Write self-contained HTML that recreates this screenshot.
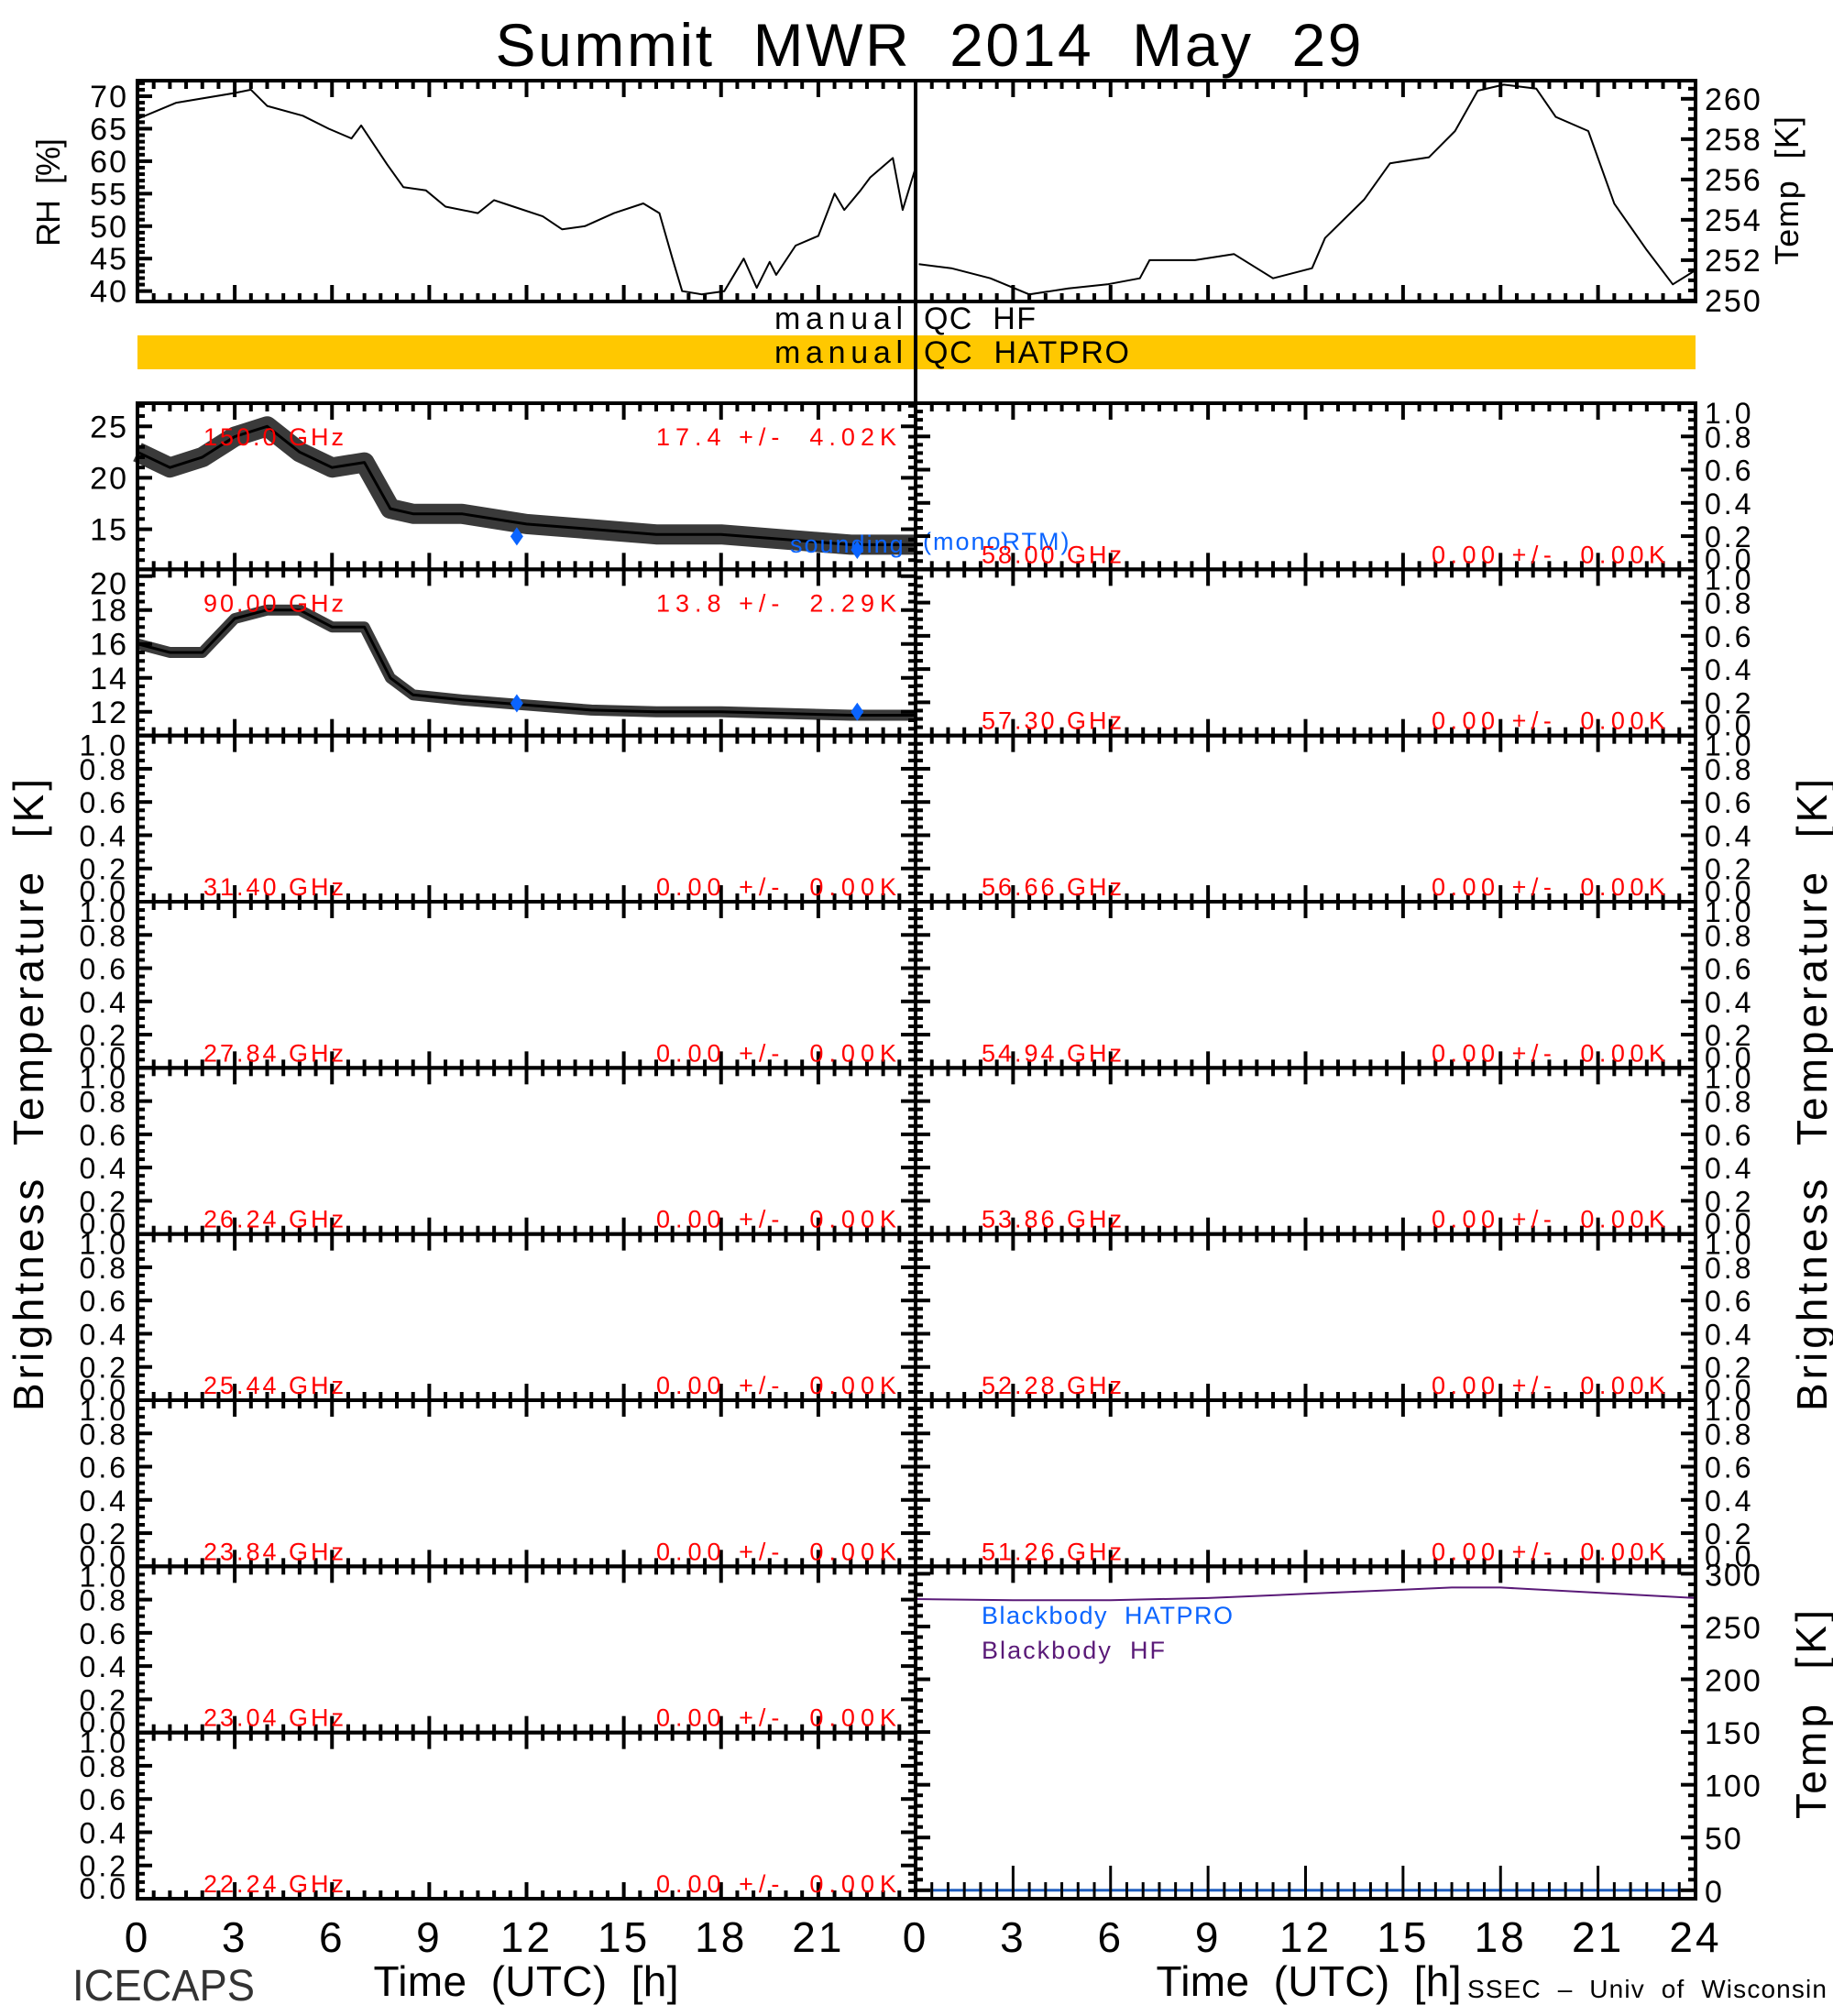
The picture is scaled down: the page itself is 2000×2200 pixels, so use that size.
<!DOCTYPE html>
<html><head><meta charset="utf-8"><style>
html,body{margin:0;padding:0;background:#fff;}
svg{display:block;font-family:"Liberation Sans",sans-serif;}
text{white-space:pre;}
</style></head><body>
<svg id="chart" width="2000" height="2200" viewBox="0 0 2000 2200" xmlns="http://www.w3.org/2000/svg"></svg>
<script>
// ---- data ----
const rhHours=[0,1.2,3,3.5,4,5.1,5.9,6.6,6.9,7.7,8.2,8.9,9.5,10.5,11,11.6,12.5,13.1,13.8,14.7,15.6,16.1,16.5,16.8,17.4,18.1,18.7,19.1,19.5,19.7,20.3,21,21.5,21.8,22.3,22.6,23.3,23.6,24];
const rhValues=[66.5,69,70.5,71,68.5,67,65,63.5,65.5,59.5,56,55.5,53,52,54,53,51.5,49.5,50,52,53.5,52,45,40,39.5,40,45,40.5,44.5,42.5,47,48.5,55,52.5,55.5,57.5,60.5,52.5,59];
const tHours=[0.1,1.1,2.3,3.5,4.7,5.9,6.9,7.2,8.6,9.8,11,12.2,12.6,13.8,14.6,15.8,16.6,17.3,18.1,19.1,19.7,20.7,21.5,22.5,23.3,24];
const tValues=[251.8,251.6,251.1,250.3,250.6,250.8,251.1,252,252,252.3,251.1,251.6,253.1,255,256.8,257.1,258.4,260.4,260.7,260.5,259.1,258.4,254.8,252.5,250.8,251.5];
const tbHours=[0,1,2,3,4,5,6,7,7.8,8.5,10,12,14,16,18,20,22,24];
const tb150=[22.5,21,22,24,25,22.5,21,21.5,17,16.5,16.5,15.5,15,14.5,14.5,14,13.5,13.5];
const tb90=[16,15.5,15.5,17.5,18,18,17,17,14,13,12.7,12.4,12.1,12,12,11.9,11.8,11.8];
const soundHours=[11.7,22.2];
const sound150=[14.3,13.0];
const sound90=[12.5,12.0];
const bbHours=[0,3,6,9,12,15,16.5,18,21,24];
const bbHF=[276,275,275,277,281,285,287,287,282,277];
const bbHatpro=[0,0,0,0,0,0,0,0,0,0];
const leftFreqs=["150.0 GHz","90.00 GHz","31.40 GHz","27.84 GHz","26.24 GHz","25.44 GHz","23.84 GHz","23.04 GHz","22.24 GHz"];
const leftStats=["17.4 +/-  4.02K","13.8 +/-  2.29K","0.00 +/-  0.00K","0.00 +/-  0.00K","0.00 +/-  0.00K","0.00 +/-  0.00K","0.00 +/-  0.00K","0.00 +/-  0.00K","0.00 +/-  0.00K"];
const rightFreqs=["58.00 GHz","57.30 GHz","56.66 GHz","54.94 GHz","53.86 GHz","52.28 GHz","51.26 GHz"];
const rightStats=["0.00 +/-  0.00K","0.00 +/-  0.00K","0.00 +/-  0.00K","0.00 +/-  0.00K","0.00 +/-  0.00K","0.00 +/-  0.00K","0.00 +/-  0.00K"];
const hourTicksLeft=[0,3,6,9,12,15,18,21];
const hourTicksRight=[0,3,6,9,12,15,18,21,24];

// ---- geometry ----
const NS="http://www.w3.org/2000/svg";
const svg=document.getElementById('chart');
const XL0=150,XM=999,XR1=1850;
const TOP=440,BOT=2072,ROWH=(BOT-TOP)/9;
function xL(h){return XL0+h*(XM-XL0)/24;}
function xR(h){return XM+h*(XR1-XM)/24;}
function yLin(v,lo,hi,y0,y1){return y1-(v-lo)/(hi-lo)*(y1-y0);}
function mk(tag,attrs,parent){const e=document.createElementNS(NS,tag);for(const k in attrs)e.setAttribute(k,attrs[k]);(parent||svg).appendChild(e);return e;}
function txt(s,x,y,size,color,anchor,name,extra){
  const e=mk('text',{x:x,y:y,'font-size':size,fill:color||'#000','text-anchor':anchor||'start'});
  if(extra)for(const k in extra)e.setAttribute(k,extra[k]);
  e.textContent=s;
  
  
  return e;}
function line(x1,y1,x2,y2,w,name,color){
  const e=mk('line',{x1:x1,y1:y1,x2:x2,y2:y2,stroke:color||'#000','stroke-width':w});
  
  
  return e;}
function frame(x0,y0,x1,y1,name){
  const e=mk('rect',{x:x0,y:y0,width:x1-x0,height:y1-y0,fill:'none',stroke:'#000','stroke-width':4});
  
  
  return e;}
function xTicks(x0,x1,y0,y1,top){
  for(let i=0;i<=48;i++){const h=i*0.5;const x=x0+h*(x1-x0)/24;const L=(i%6===0)?18:9;
    line(x,y1,x,y1-L,4,'x-tick');
    if(top)line(x,y0,x,y0+L,4,'x-tick');}
}
function yTicks(x0,x1,y0,y1,n,minor){
  const tot=n*minor;
  for(let i=0;i<=tot;i++){const y=y1-i*(y1-y0)/tot;const L=(i%minor===0)?16:8;
    line(x0,y,x0+L,y,4,'y-tick');line(x1,y,x1-L,y,4,'y-tick');}
}
function path(hs,vs,xf,yf,w,color,name){
  let d='';for(let i=0;i<hs.length;i++){d+=(i?'L':'M')+xf(hs[i]).toFixed(1)+','+yf(vs[i]).toFixed(1);}
  const e=mk('path',{d:d,fill:'none',stroke:color,'stroke-width':w,'stroke-linejoin':'round'});
  
  
  return e;}
function diamond(x,y,name){
  const e=mk('path',{d:`M${x},${y-10}L${x+7},${y}L${x},${y+10}L${x-7},${y}Z`,fill:'#0a64ff'});
  
  }

// ---- title ----
txt('Summit  MWR  2014  May  29',1013,72,66,'#000','middle','chart-title',{textLength:'945',lengthAdjust:'spacing'});

// ---- RH / Temp panels ----
const RY0=88,RY1=329;
const rhLo=38.4,rhHi=72.4,tLo=249.95,tHi=260.9;
path(rhHours,rhValues,xL,v=>yLin(v,rhLo,rhHi,RY0,RY1),2,'#000','rh-line');
path(tHours,tValues,xR,v=>yLin(v,tLo,tHi,RY0,RY1),2,'#000','temp-line');
frame(XL0,RY0,XM,RY1,'rh-panel');frame(XM,RY0,XR1,RY1,'temp-panel');
xTicks(XL0,XM,RY0,RY1,true);xTicks(XM,XR1,RY0,RY1,true);
for(let v=40;v<=70;v+=5){const y=yLin(v,rhLo,rhHi,RY0,RY1);line(XL0,y,XL0+16,y,4,'y-tick');
  for(let m=1;m<5;m++){const ym=yLin(v+m,rhLo,rhHi,RY0,RY1);if(ym>RY0)line(XL0,ym,XL0+8,ym,4,'y-tick');}
  txt(String(v),140,y+12,34,'#000','end','rh-tick-label',{'letter-spacing':'2'});}
for(let v=250;v<=260;v+=2){const y=yLin(v,tLo,tHi,RY0,RY1);line(XR1,y,XR1-16,y,4,'y-tick');
  for(let m=0.5;m<2;m+=0.5){const ym=yLin(v+m,tLo,tHi,RY0,RY1);if(ym>RY0)line(XR1,ym,XR1-8,ym,4,'y-tick');}
  txt(String(v),1860,y+12,34,'#000','start','temp-tick-label',{'letter-spacing':'2'});}
txt('RH  [%]',0,0,36,'#000','middle','rh-axis-title',{transform:'translate(65,210) rotate(-90)',textLength:'118',lengthAdjust:'spacing'});
txt('Temp  [K]',0,0,36,'#000','middle','temp-axis-title',{transform:'translate(1962,208) rotate(-90)',textLength:'162',lengthAdjust:'spacing'});

// ---- QC bars ----
const bar=mk('rect',{x:XL0,y:366,width:XR1-XL0,height:37,fill:'#ffc800'});


txt('manual',985,359,34,'#000','end','qc-hf-manual-label',{textLength:'140',lengthAdjust:'spacing'});
txt('QC  HF',1008,359,34,'#000','start','qc-hf-label',{textLength:'122',lengthAdjust:'spacing'});
txt('manual',985,396,34,'#000','end','qc-hatpro-manual-label',{textLength:'140',lengthAdjust:'spacing'});
txt('QC  HATPRO',1008,396,34,'#000','start','qc-hatpro-label',{textLength:'224',lengthAdjust:'spacing'});

// ---- channel panels ----
function rowY(i){return TOP+i*ROWH;}
const r0=rowY(0),r1=rowY(1),r2=rowY(2);
const l150=11.1,h150=27.25,l90=10.6,h90=20.4;
path(tbHours,tb150,xL,v=>yLin(v,l150,h150,r0,r1),22,'#3a3a3a','tb150-band');
path(tbHours,tb150,xL,v=>yLin(v,l150,h150,r0,r1),3,'#000','tb150-line');
path(tbHours,tb90,xL,v=>yLin(v,l90,h90,r1,r2),12,'#3a3a3a','tb90-band');
path(tbHours,tb90,xL,v=>yLin(v,l90,h90,r1,r2),3,'#000','tb90-line');
for(let i=0;i<soundHours.length;i++){diamond(xL(soundHours[i]),yLin(sound150[i],l150,h150,r0,r1),'sounding-150');diamond(xL(soundHours[i]),yLin(sound90[i],l90,h90,r1,r2),'sounding-90');}
txt('sounding',862,603,27,'#0a64ff','start','sounding-label',{'letter-spacing':'2'});
txt('(monoRTM)',1007,600,27,'#0a64ff','start','monortm-label',{'letter-spacing':'2'});
for(let v=12;v<=27;v++){const y=yLin(v,l150,h150,r0,r1);const L=(v%5===0)?16:8;line(XL0,y,XL0+L,y,4,'y-tick');line(XM,y,XM-L,y,4,'y-tick');
  if(v%5===0)txt(String(v),140,y+12,34,'#000','end','tb150-tick-label',{'letter-spacing':'2'});}
for(let v=11;v<=20;v+=0.5){const y=yLin(v,l90,h90,r1,r2);const L=(v%2===0)?16:8;line(XL0,y,XL0+L,y,4,'y-tick');line(XM,y,XM-L,y,4,'y-tick');
  if(v%2===0&&v>=12)txt(String(v),140,(v===20?y+20:y+12),34,'#000','end','tb90-tick-label',{'letter-spacing':'2'});}
for(let i=2;i<9;i++){const y0=rowY(i),y1=rowY(i+1);yTicks(XL0,XM,y0,y1,5,4);
  for(let k=0;k<=5;k++){const v=k*0.2;let y=yLin(v,0,1,y0,y1)+12;if(k===0)y-=12;if(k===5)y+=10;
    txt(v.toFixed(1),140,y,32,'#000','end','empty-tick-label',{'letter-spacing':'3'});}}
for(let i=0;i<7;i++){const y0=rowY(i),y1=rowY(i+1);yTicks(XM,XR1,y0,y1,5,4);
  for(let k=0;k<=5;k++){const v=k*0.2;let y=yLin(v,0,1,y0,y1)+12;if(k===0)y-=12;if(k===5)y+=10;
    txt(v.toFixed(1),1860,y,32,'#000','start','empty-tick-label',{'letter-spacing':'3'});}}
for(let i=0;i<9;i++){const y0=rowY(i),y1=rowY(i+1);frame(XL0,y0,XM,y1,'channel-panel-left');xTicks(XL0,XM,y0,y1,true);
  const yt=(i<2)?y0+46:y1-7;
  txt(leftFreqs[i],222,yt,27,'#ff0000','start','freq-label',{textLength:'153',lengthAdjust:'spacing'});
  txt(leftStats[i],978,yt,27,'#ff0000','end','stats-label',{textLength:'262',lengthAdjust:'spacing'});}
for(let i=0;i<7;i++){const y0=rowY(i),y1=rowY(i+1);frame(XM,y0,XR1,y1,'channel-panel-right');xTicks(XM,XR1,y0,y1,true);
  txt(rightFreqs[i],1071,y1-7,27,'#ff0000','start','freq-label',{textLength:'153',lengthAdjust:'spacing'});
  txt(rightStats[i],1817,y1-7,27,'#ff0000','end','stats-label',{textLength:'255',lengthAdjust:'spacing'});}
// blackbody panel
const b0=rowY(7),b1=BOT,bLo=-8,bHi=307;
path(bbHours,bbHF,xR,v=>yLin(v,bLo,bHi,b0,b1),2,'#5a1a78','blackbody-hf-line');
path(bbHours,bbHatpro,xR,v=>yLin(v,bLo,bHi,b0,b1),3,'#1f5fbf','blackbody-hatpro-line');
frame(XM,b0,XR1,b1,'blackbody-panel');
for(let v=0;v<=300;v+=10){const y=yLin(v,bLo,bHi,b0,b1);const L=(v%50===0)?16:8;line(XM,y,XM+L,y,4,'y-tick');line(XR1,y,XR1-L,y,4,'y-tick');
  if(v%50===0)txt(String(v),1860,y+13,34,'#000','start','blackbody-tick-label',{'letter-spacing':'2'});}
for(let i=0;i<=48;i++){const x=xR(i*0.5);const L=(i%6===0)?36:18;line(x,b1,x,b1-L,3,'x-tick');line(x,b0,x,b0+(i%6===0?18:9),4,'x-tick');}
txt('Blackbody  HATPRO',1071,1772,27,'#0a64ff','start','legend-blackbody-hatpro',{textLength:'274',lengthAdjust:'spacing'});
txt('Blackbody  HF',1071,1810,27,'#5a1a78','start','legend-blackbody-hf',{textLength:'200',lengthAdjust:'spacing'});
txt('Temp  [K]',0,0,46,'#000','middle','blackbody-axis-title',{transform:'translate(1992,1871) rotate(-90)',textLength:'228',lengthAdjust:'spacing'});

line(XM,RY0,XM,BOT,4,'center-divider');

txt('Brightness  Temperature  [K]',0,0,46,'#000','middle','y-axis-title-left',{transform:'translate(47,1195) rotate(-90)',textLength:'690',lengthAdjust:'spacing'});
txt('Brightness  Temperature  [K]',0,0,46,'#000','middle','y-axis-title-right',{transform:'translate(1993,1195) rotate(-90)',textLength:'690',lengthAdjust:'spacing'});

hourTicksLeft.forEach(h=>{txt(String(h),xL(h),2130,46,'#000','middle','x-tick-label-left',{'letter-spacing':'3'});});
hourTicksRight.forEach(h=>{txt(String(h),xR(h),2130,46,'#000','middle','x-tick-label-right',{'letter-spacing':'3'});});
txt('Time  (UTC)  [h]',574,2178,46,'#000','middle','x-axis-title-left',{textLength:'333',lengthAdjust:'spacing'});
txt('Time  (UTC)  [h]',1428,2178,46,'#000','middle','x-axis-title-right',{textLength:'333',lengthAdjust:'spacing'});
txt('ICECAPS',79,2183,48,'#333','start','icecaps-label',{textLength:'199',lengthAdjust:'spacingAndGlyphs'});
txt('SSEC  –  Univ  of  Wisconsin',1601,2180,28,'#000','start','ssec-credit',{textLength:'392',lengthAdjust:'spacing'});
</script>
</body></html>
